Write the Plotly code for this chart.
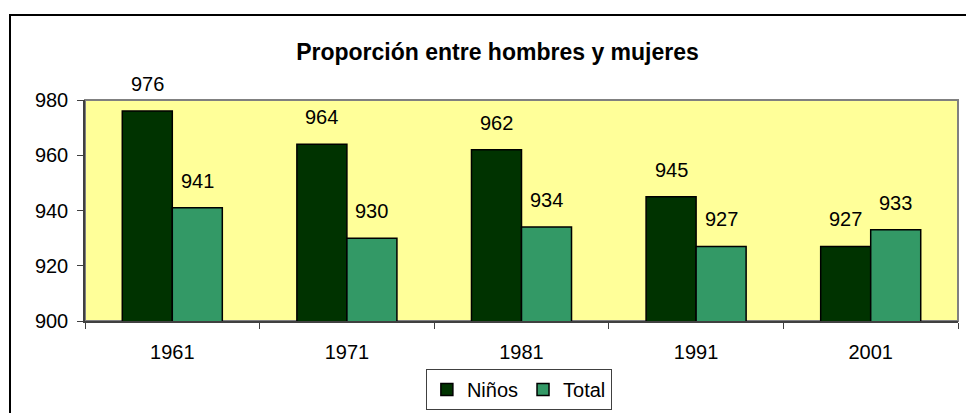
import plotly.graph_objects as go

years = ["1961", "1971", "1981", "1991", "2001"]
ninos = [976, 964, 962, 945, 927]
total = [941, 930, 934, 927, 933]

FONT = "Liberation Sans, Arial, sans-serif"

fig = go.Figure()
fig.add_trace(go.Bar(x=years, y=ninos, name="Niños",
                     marker=dict(color="#003300", line=dict(color="black", width=1.5))))
fig.add_trace(go.Bar(x=years, y=total, name="Total",
                     marker=dict(color="#339966", line=dict(color="black", width=1.5))))

# value labels above bars, Excel style (x given as category index)
half = 174.6 * (1 - 0.427) / 4
for i in range(len(years)):
    for val, dx in ((ninos[i], -half), (total[i], half)):
        fig.add_annotation(x=i, y=val, text=str(val), showarrow=False,
                           xshift=dx, yshift=14, yanchor="bottom",
                           font=dict(size=20, color="black", family=FONT))

# plot area border (grey) and chart border (black)
fig.add_shape(type="rect", xref="paper", yref="paper", x0=0, x1=1, y0=0, y1=1,
              line=dict(color="#808080", width=2), layer="below")
fig.add_shape(type="rect", xref="paper", yref="paper",
              x0=(10 - 85) / 873, x1=1.2, y0=-0.6, y1=(321 - 15) / 221,
              line=dict(color="black", width=2))

fig.update_layout(
    width=966, height=413,
    margin=dict(l=85, r=8, t=100, b=92, autoexpand=False),
    paper_bgcolor="white", plot_bgcolor="#FFFF99",
    barmode="group", bargap=0.427, bargroupgap=0,
    font=dict(family=FONT, size=20, color="black"),
    title=dict(text="<b>Proporción entre hombres y mujeres</b>",
               x=0.515, xanchor="center", y=1 - 52 / 413, yanchor="middle",
               font=dict(size=23, family=FONT)),
    legend=dict(orientation="h", x=0.497, xanchor="center", y=-0.217, yanchor="top",
                bgcolor="white", bordercolor="#404040", borderwidth=1,
                font=dict(size=20, family=FONT), itemwidth=30),
    showlegend=True,
)
fig.update_xaxes(type="category", range=[-0.5, len(years) - 0.5],
                 showline=True, linecolor="#404040", linewidth=1.5,
                 ticks="outside", ticklen=6, tickcolor="#404040",
                 tickson="boundaries", ticklabelstandoff=12,
                 showgrid=False)
fig.update_yaxes(range=[900, 980], dtick=20, showline=True, linecolor="#404040",
                 linewidth=1.5, ticks="outside", ticklen=6, tickcolor="#404040",
                 ticklabelstandoff=5, showgrid=False, zeroline=False)

# drop the default page margin so the figure sits at the window's corner
fig.write_html("out.html", config={"displayModeBar": False},
               post_script="document.body.style.margin='0';")
